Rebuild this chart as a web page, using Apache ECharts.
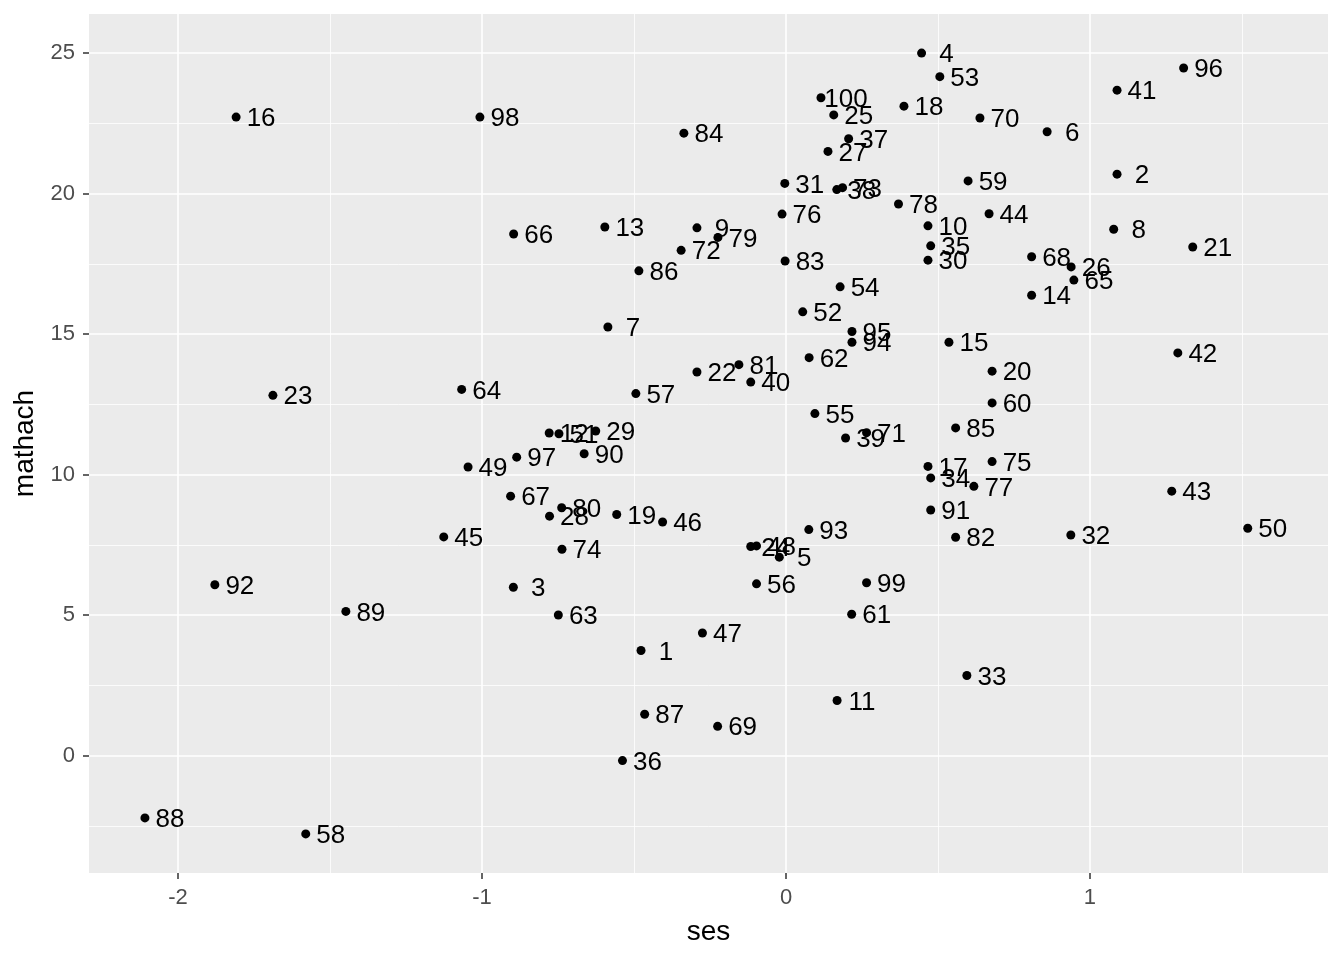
<!DOCTYPE html>
<html>
<head>
<meta charset="utf-8">
<script src="https://cdn.jsdelivr.net/npm/echarts@6/dist/echarts.min.js"></script>
<style>
  html, body { margin: 0; padding: 0; background: #ffffff; }
  #chart { width: 1344px; height: 960px; }
</style>
</head>
<body>
<div id="chart"></div>
<script>
// Point labels (ids) 1..100
const ids = Array.from({ length: 100 }, (_, i) => String(i + 1));

// ses values, in id order 1..100
const ses = [
  -0.477, 1.089, -0.897, 0.446, -0.022, 0.859, -0.586, 1.078, -0.293, 0.467,
   0.168, -0.779, -0.596, 0.808, 0.536, -1.809, 0.467, 0.388, -0.557, 0.678,
   1.338, -0.293, -1.688, -0.116, 0.157, 0.938, 0.138, -0.778, -0.626, 0.467,
  -0.004, 0.937, 0.595, 0.476, 0.476, -0.538, 0.206, 0.167, 0.196, -0.116,
   1.089, 1.289, 1.269, 0.668, -1.126, -0.406, -0.275, -0.097, -1.046, 1.519,
  -0.747, 0.055, 0.506, 0.178, 0.095, -0.097, -0.494, -1.580, 0.599, 0.678,
   0.216, 0.076, -0.749, -1.067, 0.947, -0.896, -0.906, 0.808, -0.225, 0.638,
   0.265, -0.345, 0.186, -0.737, 0.678, -0.013, 0.618, 0.370, -0.224, -0.738,
  -0.155, 0.558, -0.003, -0.336, 0.558, -0.484, -0.465, -2.109, -1.448, -0.664,
   0.476, -1.879, 0.075, 0.217, 0.217, 1.308, -0.886, -1.007, 0.265, 0.115
];

// mathach values, in id order 1..100
const mathach = [
   3.74, 20.69, 5.99, 25.00, 7.06, 22.20, 15.25, 18.73, 18.78, 18.85,
   1.96, 11.48, 18.81, 16.38, 14.71, 22.72, 10.29, 23.11, 8.58, 13.68,
  18.10, 13.65, 12.82, 7.44, 22.80, 17.39, 21.50, 8.52, 11.55, 17.63,
  20.36, 7.85, 2.85, 9.88, 18.14, -0.18, 21.95, 20.14, 11.30, 13.29,
  23.68, 14.33, 9.41, 19.28, 7.78, 8.31, 4.36, 7.46, 10.27, 8.09,
  11.45, 15.79, 24.16, 16.68, 12.17, 6.11, 12.88, -2.79, 20.45, 12.55,
   5.03, 14.16, 5.00, 13.03, 16.92, 18.56, 9.23, 17.75, 1.04, 22.69,
  11.49, 17.98, 20.21, 7.34, 10.46, 19.27, 9.58, 19.63, 18.44, 8.82,
  13.91, 7.77, 17.60, 22.15, 11.66, 17.25, 1.47, -2.22, 5.13, 10.74,
   8.74, 6.08, 8.04, 14.71, 15.09, 24.47, 10.62, 22.72, 6.15, 23.41
];

// Axis ranges and ticks
const xRange = [-2.293, 1.783];
const yRange = [-4.18, 26.39];
const xTicks = [-2, -1, 0, 1];
const yTicks = [0, 5, 10, 15, 20, 25];
const xMinor = [-1.5, -0.5, 0.5, 1.5];
const yMinor = [-2.5, 2.5, 7.5, 12.5, 17.5, 22.5];

const points = ids.map((id, i) => ({ name: id, value: [ses[i], mathach[i]] }));

const FONT = '"Liberation Sans", Arial, sans-serif';
const SYM = 9;

const chart = echarts.init(document.getElementById('chart'), null, { renderer: 'canvas' });

const minorLines = xMinor.map(v => ({ xAxis: v })).concat(yMinor.map(v => ({ yAxis: v })));

chart.setOption({
  animation: false,
  backgroundColor: '#ffffff',
  grid: {
    left: 89, top: 14, width: 1239, height: 859,
    show: true, backgroundColor: '#EBEBEB', borderWidth: 0,
    containLabel: false
  },
  xAxis: {
    type: 'value',
    min: xRange[0], max: xRange[1],
    position: 'bottom',
    name: 'ses',
    nameLocation: 'middle',
    nameGap: 45,
    nameTextStyle: { fontFamily: FONT, fontSize: 28, color: '#000000' },
    axisLine: { show: false, onZero: false },
    axisTick: { show: true, inside: false, customValues: xTicks, length: 6, lineStyle: { color: '#333333', width: 1.5 } },
    axisLabel: { show: true, customValues: xTicks, margin: 14, fontFamily: FONT, fontSize: 22, color: '#4D4D4D' },
    splitLine: { show: true, lineStyle: { color: '#FFFFFF', width: 1.6 } }
  },
  yAxis: {
    type: 'value',
    min: yRange[0], max: yRange[1],
    position: 'left',
    name: 'mathach',
    nameLocation: 'middle',
    nameGap: 44,
    nameRotate: 90,
    nameTextStyle: { fontFamily: FONT, fontSize: 28, color: '#000000' },
    axisLine: { show: false, onZero: false },
    axisTick: { show: true, inside: false, customValues: yTicks, length: 6, lineStyle: { color: '#333333', width: 1.5 } },
    axisLabel: { show: true, customValues: yTicks, margin: 14, fontFamily: FONT, fontSize: 22, color: '#4D4D4D' },
    splitLine: { show: true, lineStyle: { color: '#FFFFFF', width: 1.6 } }
  },
  series: [
    {
      type: 'scatter',
      data: [],
      silent: true,
      z: 1,
      markLine: {
        z: 1,
        silent: true,
        symbol: ['none', 'none'],
        label: { show: false },
        lineStyle: { color: '#FFFFFF', width: 0.8, type: 'solid' },
        emphasis: { disabled: true },
        data: minorLines
      }
    },
    {
      type: 'scatter',
      z: 6,
      data: points,
      symbol: 'circle',
      symbolSize: SYM,
      itemStyle: { color: '#000000', opacity: 1 },
      label: {
        show: true,
        position: [SYM / 2 + 25, SYM / 2 + 2],
        align: 'center',
        verticalAlign: 'middle',
        formatter: p => p.name,
        fontFamily: FONT,
        fontSize: 26,
        color: '#000000',
        opacity: 1,
        textBorderWidth: 0
      },
      labelLayout: { hideOverlap: false },
      emphasis: { disabled: true }
    }
  ]
});
</script>
</body>
</html>
